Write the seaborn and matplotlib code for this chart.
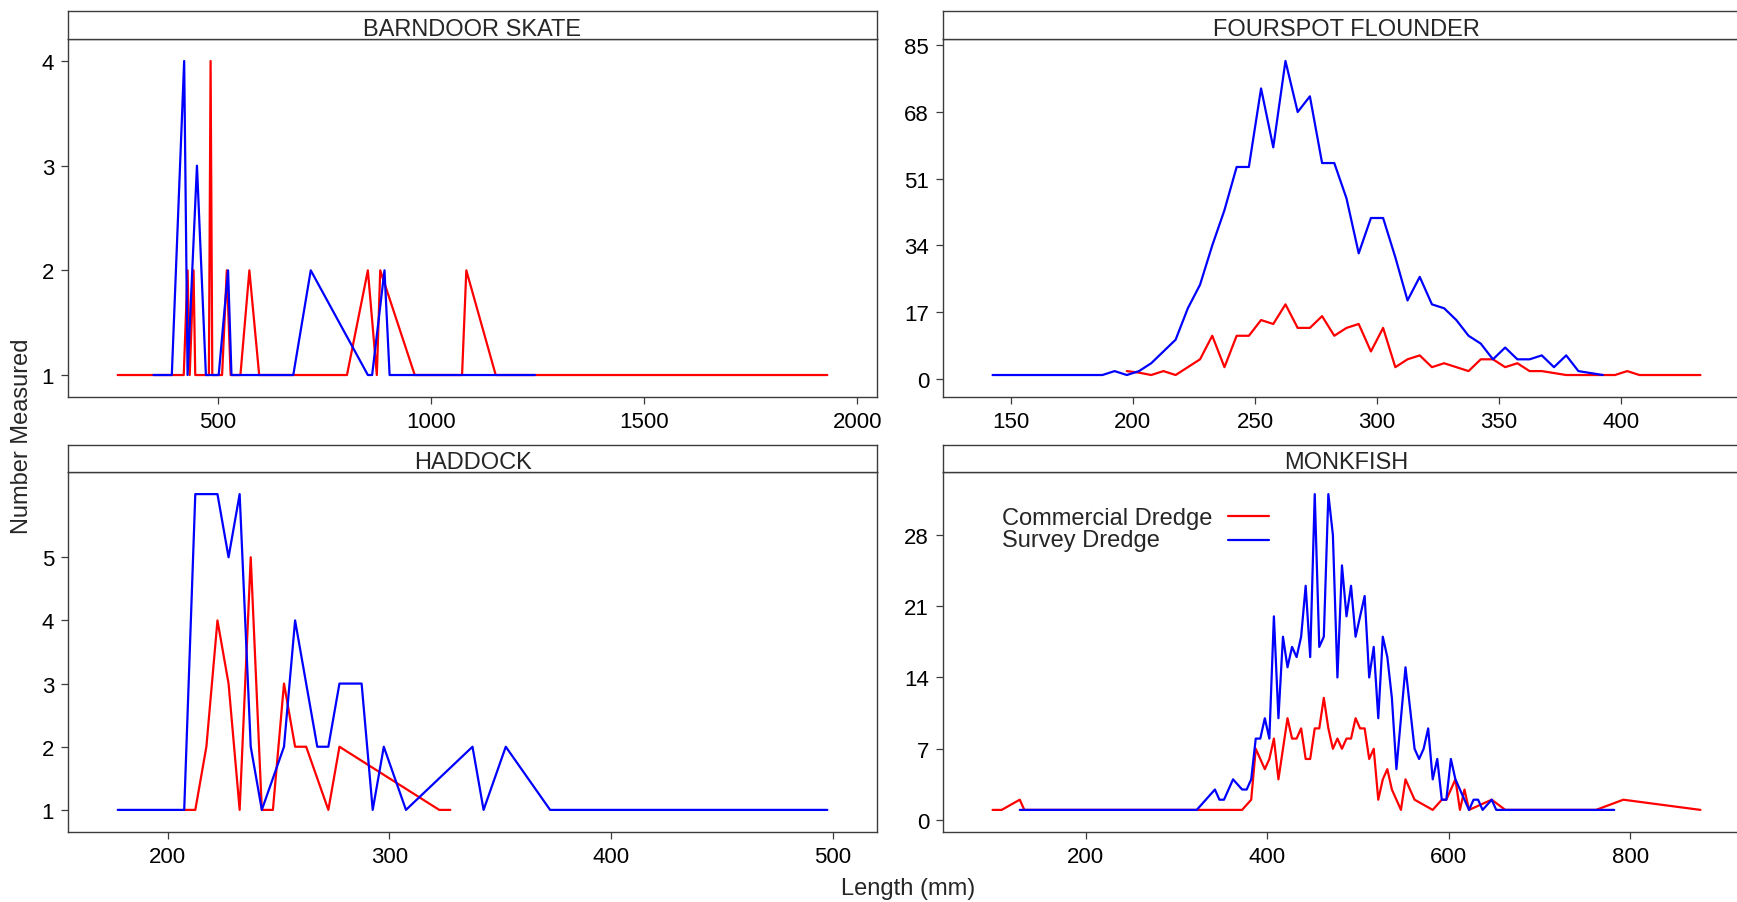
import numpy as np
import pandas as pd
import matplotlib
matplotlib.use("Agg")
import matplotlib.pyplot as plt
import seaborn as sns
from matplotlib.lines import Line2D

# ---------------- data (length mm, number measured) ----------------
GEARS = ["Commercial Dredge", "Survey Dredge"]
PALETTE = {"Commercial Dredge": "#FF0000", "Survey Dredge": "#0000FF"}

# BARNDOOR SKATE
bs_com_len = [265, 420, 429, 434, 443, 447, 479, 483, 487, 510, 521, 530, 553, 574, 597,
              803, 852, 873, 881, 962, 1073, 1083, 1152, 1930]
bs_com_n = [1, 1, 2, 1, 2, 1, 1, 4, 1, 1, 2, 1, 1, 2, 1, 1, 2, 1, 2, 1, 1, 2, 1, 1]
bs_sur_len = [349, 392, 421, 429, 451, 472, 502, 524, 532, 677, 718, 852, 862, 891, 903, 1244]
bs_sur_n = [1, 1, 4, 1, 3, 1, 1, 2, 1, 1, 2, 1, 1, 2, 1, 1]

# FOURSPOT FLOUNDER
fs_com_len = [197.5, 202.5, 207.5, 212.5, 217.5, 222.5, 227.5, 232.5, 237.5, 242.5,
              247.5, 252.5, 257.5, 262.5, 267.5, 272.5, 277.5, 282.5, 287.5, 292.5,
              297.5, 302.5, 307.5, 312.5, 317.5, 322.5, 327.5, 332.5, 337.5, 342.5,
              347.5, 352.5, 357.5, 362.5, 367.5, 372.5, 377.5, 397.5, 402.5, 407.5, 432.5]
fs_com_n = [2, 1.6, 1, 2, 1, 3, 5, 11, 3, 11,
            11, 15, 14, 19, 13, 13, 16, 11, 13, 14,
            7, 13, 3, 5, 6, 3, 4, 3, 2, 5,
            5, 3, 4, 2, 2, 1.5, 1, 1, 2, 1, 1]
fs_sur_len = [142.5, 187.5, 192.5, 197.5, 202.5, 207.5, 212.5, 217.5, 222.5, 227.5,
              232.5, 237.5, 242.5, 247.5, 252.5, 257.5, 262.5, 267.5, 272.5, 277.5,
              282.5, 287.5, 292.5, 297.5, 302.5, 307.5, 312.5, 317.5, 322.5, 327.5,
              332.5, 337.5, 342.5, 347.5, 352.5, 357.5, 362.5, 367.5, 372.5, 377.5,
              382.5, 392.5]
fs_sur_n = [1, 1, 2, 1, 2, 4, 7, 10, 18, 24,
            34, 43, 54, 54, 74, 59, 81, 68, 72, 55,
            55, 46, 32, 41, 41, 31, 20, 26, 19, 18,
            15, 11, 9, 5, 8, 5, 5, 6, 3, 6,
            2, 1]

# HADDOCK
hd_com_len = [207.5, 212.5, 217.5, 222.5, 227.5, 232.5, 237.5, 242.5, 247.5, 252.5,
              257.5, 262.5, 272.5, 277.5, 322.5, 327.5]
hd_com_n = [1, 1, 2, 4, 3, 1, 5, 1, 1, 3, 2, 2, 1, 2, 1, 1]
hd_sur_len = [177.5, 207.5, 212.5, 222.5, 227.5, 232.5, 237.5, 242.5, 252.5, 257.5,
              267.5, 272.5, 277.5, 287.5, 292.5, 297.5, 307.5, 337.5, 342.5, 352.5,
              372.5, 497.5]
hd_sur_n = [1, 1, 6, 6, 5, 6, 2, 1, 2, 4, 2, 2, 3, 3, 1, 2, 1, 2, 1, 2, 1, 1]

# MONKFISH
mk_com_len = [97.5, 107.5, 127.5, 132.5, 372.5, 382.5, 387.5, 392.5, 397.5, 402.5,
              407.5, 412.5, 417.5, 422.5, 427.5, 432.5, 437.5, 442.5, 447.5, 452.5,
              457.5, 462.5, 467.5, 472.5, 477.5, 482.5, 487.5, 492.5, 497.5, 502.5,
              507.5, 512.5, 517.5, 522.5, 527.5, 532.5, 537.5, 542.5, 547.5, 552.5,
              557.5, 562.5, 572.5, 582.5, 592.5, 597.5, 607.5, 612.5, 617.5, 622.5,
              647.5, 662.5, 762.5, 792.5, 877.5]
mk_com_n = [1, 1, 2, 1, 1, 2, 7, 6, 5, 6,
            8, 4, 7, 10, 8, 8, 9, 6, 6, 9,
            9, 12, 9, 7, 8, 7, 8, 8, 10, 9,
            9, 6, 7, 2, 4, 5, 3, 2, 1, 4,
            3, 2, 1.5, 1, 2, 2, 4, 1, 3, 1,
            2, 1, 1, 2, 1]
mk_sur_len = [127.5, 322.5, 342.5, 347.5, 352.5, 362.5, 372.5, 377.5, 382.5, 387.5,
              392.5, 397.5, 402.5, 407.5, 412.5, 417.5, 422.5, 427.5, 432.5, 437.5,
              442.5, 447.5, 452.5, 457.5, 462.5, 467.5, 472.5, 477.5, 482.5, 487.5,
              492.5, 497.5, 502.5, 507.5, 512.5, 517.5, 522.5, 527.5, 532.5, 537.5,
              542.5, 547.5, 552.5, 557.5, 562.5, 567.5, 572.5, 577.5, 582.5, 587.5,
              592.5, 597.5, 602.5, 607.5, 612.5, 617.5, 622.5, 627.5, 632.5, 637.5,
              647.5, 652.5, 782.5]
mk_sur_n = [1, 1, 3, 2, 2, 4, 3, 3, 4, 8,
            8, 10, 8, 20, 10, 18, 15, 17, 16, 18,
            23, 16, 32, 17, 18, 32, 28, 14, 25, 20,
            23, 18, 20, 22, 14, 17, 10, 18, 16, 12,
            5, 10, 15, 11, 7, 6, 7, 9, 4, 6,
            2, 2, 6, 4, 3, 2, 1, 2, 2, 1,
            2, 1, 1]

panel_titles = ["BARNDOOR SKATE", "FOURSPOT FLOUNDER", "HADDOCK", "MONKFISH"]
x_ticks = [[500, 1000, 1500, 2000], [150, 200, 250, 300, 350, 400],
           [200, 300, 400, 500], [200, 400, 600, 800]]
y_ticks = [[1, 2, 3, 4], [0, 17, 34, 51, 68, 85], [1, 2, 3, 4, 5], [0, 7, 14, 21, 28]]

series = [
    (bs_com_len, bs_com_n, bs_sur_len, bs_sur_n),
    (fs_com_len, fs_com_n, fs_sur_len, fs_sur_n),
    (hd_com_len, hd_com_n, hd_sur_len, hd_sur_n),
    (mk_com_len, mk_com_n, mk_sur_len, mk_sur_n),
]

# ---------------- layout ----------------
sns.set_style("white")
plt.rcParams['font.family'] = ['Liberation Sans', 'DejaVu Sans']

W, H = 1737, 903
fig = plt.figure(figsize=(W / 100, H / 100), dpi=100)


def box(x0, y0, x1, y1):
    return [x0 / W, 1 - y1 / H, (x1 - x0) / W, (y1 - y0) / H]


# (plot box, strip box) in pixel coords
geom = [
    ((68, 40, 877, 398), (68, 12, 877, 40)),
    ((943, 40, 1750, 398), (943, 12, 1750, 40)),
    ((68, 473, 877, 833), (68, 446, 877, 473)),
    ((943, 473, 1750, 833), (943, 446, 1750, 473)),
]
EDGE = "#3c3c3c"

for i, (title, (cl, cn, sl, sn), (pbox, sbox)) in enumerate(zip(panel_titles, series, geom)):
    ax = fig.add_axes(box(*pbox))
    df = pd.DataFrame({
        "length": list(cl) + list(sl),
        "n": list(cn) + list(sn),
        "gear": [GEARS[0]] * len(cl) + [GEARS[1]] * len(sl),
    })
    sns.lineplot(data=df, x="length", y="n", hue="gear", hue_order=GEARS,
                 palette=PALETTE, estimator=None, sort=False, lw=1.6,
                 ax=ax, legend=False)
    ax.margins(x=0.07, y=0.07)
    ax.autoscale_view()
    xl = ax.get_xlim(); yl = ax.get_ylim()
    ax.set_xticks(x_ticks[i]); ax.set_yticks(y_ticks[i])
    ax.set_xlim(xl); ax.set_ylim(yl)
    ax.set_xlabel(""); ax.set_ylabel("")
    for sp in ax.spines.values():
        sp.set_color(EDGE); sp.set_linewidth(1.0); sp.set_visible(True)
    ax.tick_params(axis="both", direction="out", length=5, width=0.9, color=EDGE,
                   labelsize=16, pad=5, left=True, bottom=True, top=False, right=False,
                   labelcolor="black")

    sax = fig.add_axes(box(*sbox))
    sax.set_xticks([]); sax.set_yticks([])
    sax.set_facecolor("white")
    for sp in sax.spines.values():
        sp.set_color(EDGE); sp.set_linewidth(1.0); sp.set_visible(True)
    sax.text(0.5, 0.36, title, ha="center", va="center", fontsize=17,
             transform=sax.transAxes)

    if title == "MONKFISH":
        txt_handles = [Line2D([], [], linestyle="none") for _ in GEARS]
        leg1 = ax.legend(txt_handles, GEARS, loc="upper left",
                         bbox_to_anchor=((1002 - 943) / 807, 1 - (508 - 473) / 360),
                         frameon=False, fontsize=17, handlelength=0, handletextpad=0,
                         labelspacing=0.02, borderpad=0, borderaxespad=0)
        ax.add_artist(leg1)
        line_handles = [Line2D([], [], color=PALETTE[g], lw=1.6) for g in GEARS]
        ax.legend(line_handles, ["", ""], loc="upper left",
                  bbox_to_anchor=((1228 - 943) / 807, 1 - (508 - 473) / 360),
                  frameon=False, fontsize=17, handlelength=1.74, handletextpad=0,
                  labelspacing=0.1, borderpad=0, borderaxespad=0)

fig.text(22 / W, 1 - 436 / H, "Number Measured", rotation=90, ha="center",
         va="center", fontsize=17)
fig.text(908 / W, 1 - 889 / H, "Length (mm)", ha="center", va="center", fontsize=17)

fig.savefig("out.png", dpi=100)
